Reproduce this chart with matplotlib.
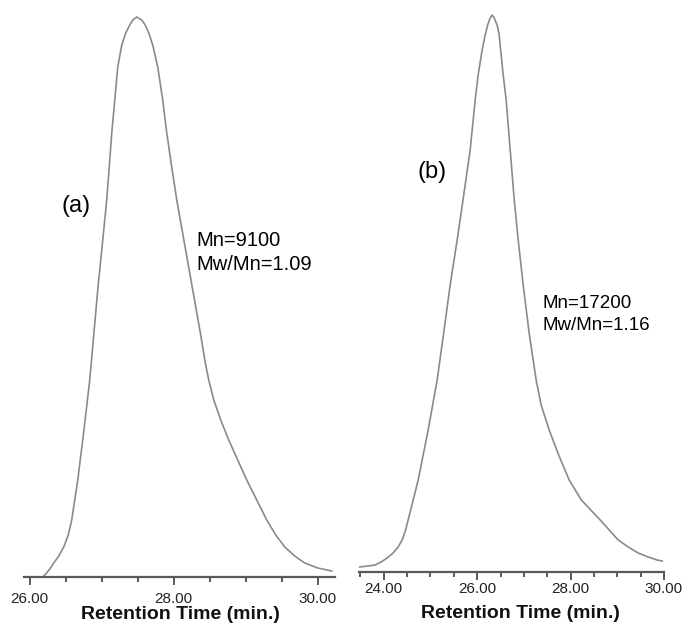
import matplotlib
matplotlib.use("Agg")
import matplotlib.pyplot as plt
from matplotlib.ticker import MultipleLocator, FixedLocator

plt.rcParams['font.family'] = ['Liberation Sans', 'DejaVu Sans']

# ---- data ----
a_time = [26.181, 26.222, 26.278, 26.333, 26.403, 26.472, 26.535, 26.583, 26.625,
          26.667, 26.701, 26.736, 26.785, 26.833, 26.889, 26.944, 27.007, 27.069,
          27.104, 27.139, 27.181, 27.222, 27.278, 27.333, 27.389, 27.431, 27.486,
          27.556, 27.604, 27.653, 27.708, 27.778, 27.847, 27.903, 27.972, 28.042,
          28.153, 28.264, 28.375, 28.431, 28.486, 28.556, 28.653, 28.764, 28.889,
          29.014, 29.153, 29.292, 29.417, 29.542, 29.681, 29.819, 30.000, 30.194]
a_signal = [0.0, 0.0054, 0.0143, 0.0250, 0.0375, 0.0536, 0.0750, 0.1018, 0.1375,
            0.1732, 0.2089, 0.2446, 0.2982, 0.3518, 0.4321, 0.5125, 0.5929, 0.6732,
            0.7321, 0.7929, 0.8518, 0.9107, 0.9500, 0.9714, 0.9857, 0.9946, 1.000,
            0.9946, 0.9857, 0.9714, 0.9500, 0.9107, 0.8518, 0.7929, 0.7321, 0.6732,
            0.5929, 0.5125, 0.4321, 0.3875, 0.3518, 0.3161, 0.2804, 0.2446, 0.2089,
            0.1732, 0.1375, 0.1018, 0.0750, 0.0536, 0.0375, 0.0250, 0.0161, 0.0107]

b_time = [23.473, 23.666, 23.816, 23.944, 24.073, 24.201, 24.308, 24.394, 24.469,
          24.522, 24.630, 24.737, 24.844, 24.951, 25.047, 25.143, 25.283, 25.422,
          25.572, 25.680, 25.850, 25.957, 26.021, 26.107, 26.171, 26.225, 26.278,
          26.321,
          26.364, 26.428, 26.471, 26.503, 26.557, 26.621, 26.707, 26.792, 26.878,
          26.985, 27.113, 27.263, 27.370, 27.542, 27.745, 27.970, 28.230, 28.634,
          28.827, 29.019, 29.233, 29.448, 29.662, 29.854, 29.961]
b_signal = [0.0090, 0.0108, 0.0126, 0.0180, 0.0251, 0.0341, 0.0449, 0.0575, 0.0754,
            0.0934, 0.1293, 0.1652, 0.2101, 0.2549, 0.2998, 0.3447, 0.4291, 0.5153,
            0.5961, 0.6580, 0.7576, 0.8474, 0.8923, 0.9372, 0.9641, 0.9820, 0.9946,
            1.0,
            0.9946, 0.9820, 0.9641, 0.9372, 0.8923, 0.8474, 0.7576, 0.6697, 0.5961,
            0.5153, 0.4291, 0.3447, 0.2998, 0.2549, 0.2101, 0.1652, 0.1293, 0.0934,
            0.0754, 0.0575, 0.0449, 0.0341, 0.0269, 0.0215, 0.0197]

a_major = [26.0, 28.0, 30.0]
b_major = [24.0, 26.0, 28.0, 30.0]
a_ticklabels = ["26.00", "28.00", "30.00"]
b_ticklabels = ["24.00", "26.00", "28.00", "30.00"]

a_label = "(a)"
b_label = "(b)"
a_text = ["Mn=9100", "Mw/Mn=1.09"]
b_text = ["Mn=17200", "Mw/Mn=1.16"]
xlabel = "Retention Time (min.)"

W, H = 684, 624
fig = plt.figure(figsize=(W / 100, H / 100), dpi=100)

line_col = "#8a8a8a"
axis_col = "#5a5a5a"


def px_axes(x0, x1, ybot, ytop):
    return fig.add_axes([x0 / W, (H - ybot) / H, (x1 - x0) / W, (ybot - ytop) / H])


def style(ax, major, labels, pad):
    for s in ["top", "right", "left"]:
        ax.spines[s].set_visible(False)
    ax.spines["bottom"].set_color(axis_col)
    ax.spines["bottom"].set_linewidth(1.6)
    ax.set_yticks([])
    ax.xaxis.set_major_locator(FixedLocator(major))
    ax.set_xticklabels(labels)
    ax.xaxis.set_minor_locator(MultipleLocator(0.5))
    ax.tick_params(axis="x", which="major", length=6, width=1.4, color=axis_col,
                   labelsize=11, pad=pad, labelcolor="#222222")
    ax.tick_params(axis="x", which="minor", length=3.8, width=1.4, color=axis_col)


# panel (a)
axa = px_axes(24, 335, 577, 6)
axa.plot(a_time, a_signal, color=line_col, lw=1.2)
axa.set_xlim(25.92, 30.24)
axa.set_ylim(0, (577 - 6) / 560)
style(axa, a_major, a_ticklabels, 4.5)
axa.set_xlabel(xlabel, fontsize=14, fontweight="bold", color="#111111")
axa.xaxis.set_label_coords((180 - 24) / 311, -29 / 571)

# panel (b)
axb = px_axes(359, 664, 572, 6)
axb.plot(b_time, b_signal, color=line_col, lw=1.2)
axb.set_xlim(23.47, 30.0)
axb.set_ylim(0, (572 - 6) / 557)
style(axb, b_major, b_ticklabels, 1.5)
axb.set_xlabel(xlabel, fontsize=14, fontweight="bold", color="#111111")
axb.xaxis.set_label_coords((520 - 359) / 305, -33 / 566)

# annotations (figure pixel positions)
def ftext(x, y, s, size, **kw):
    fig.text(x / W, 1 - y / H, s, fontsize=size, **kw)

ftext(76, 206, a_label, 17, ha="center", va="center")
ftext(432, 172, b_label, 17, ha="center", va="center")
ftext(196, 240, a_text[0], 14.5, ha="left", va="center")
ftext(196, 264, a_text[1], 14.5, ha="left", va="center")
ftext(543, 303, b_text[0], 13.5, ha="left", va="center")
ftext(543, 325, b_text[1], 13.5, ha="left", va="center")

fig.savefig("out.png", dpi=100)
